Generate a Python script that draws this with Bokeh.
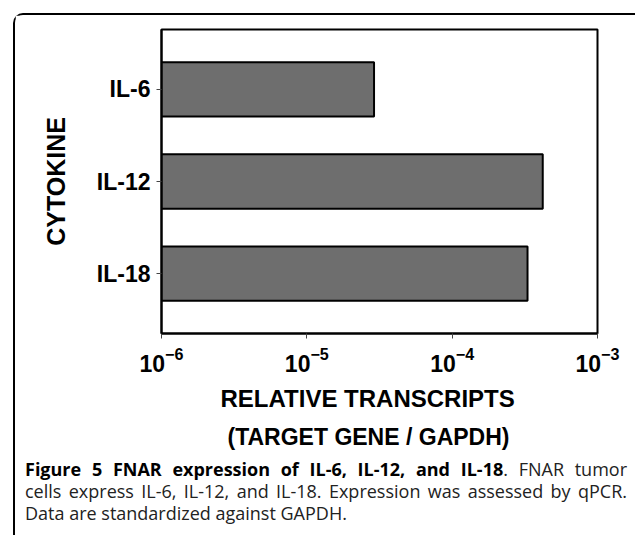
from bokeh.plotting import figure
from bokeh.models import Range1d, FactorRange, FixedTicker, ColumnDataSource, Div, Title
from bokeh.layouts import column
from bokeh.embed import file_html
from bokeh.resources import INLINE

# ---- data ----
cytokines = ["IL-6", "IL-12", "IL-18"]
relative_transcripts = [2.9e-5, 4.2e-4, 3.3e-4]
x_ticks = [1e-6, 1e-5, 1e-4, 1e-3]
x_start, x_end = 1e-6, 1e-3

x_title_lines = ["RELATIVE TRANSCRIPTS", "(TARGET GENE / GAPDH)"]
y_title = "CYTOKINE"

caption_bold = "Figure 5 FNAR expression of IL-6, IL-12, and IL-18"
caption_line1_rest = ". FNAR tumor"
caption_line2 = "cells express IL-6, IL-12, and IL-18. Expression was assessed by qPCR."
caption_line3 = "Data are standardized against GAPDH."

y_factors = list(reversed(cytokines))
src = ColumnDataSource(dict(cytokine=cytokines, value=relative_transcripts,
                            base=[x_start] * len(cytokines)))

p = figure(width=612, height=438, x_axis_type="log",
           x_range=Range1d(x_start, x_end),
           y_range=FactorRange(factors=y_factors, range_padding=0.1),
           output_backend="svg", toolbar_location=None,
           min_border_left=146, min_border_right=30,
           min_border_top=14, min_border_bottom=120)

p.hbar(y="cytokine", left="base", right="value", height=0.59, source=src,
       fill_color="#6e6e6e", line_color="black", line_width=2)

p.grid.visible = False
p.outline_line_color = "black"
p.outline_line_width = 2
p.outline_line_alpha = 1
p.background_fill_color = "white"
p.border_fill_color = "white"

AX_FONT = "Liberation Sans"
for ax in (p.xaxis, p.yaxis):
    ax.axis_line_color = "black"
    ax.axis_line_width = 2
    ax.major_tick_in = 0
    ax.major_tick_out = 5
    ax.major_tick_line_color = "#444444"
    ax.major_tick_line_width = 1
    ax.minor_tick_line_color = None
    ax.major_label_text_font = AX_FONT
    ax.major_label_text_font_style = "bold"
    ax.major_label_text_font_size = "23px"
    ax.major_label_text_color = "black"
    ax.axis_label_text_font = AX_FONT
    ax.axis_label_text_font_style = "bold"
    ax.axis_label_text_color = "black"

p.xaxis.ticker = FixedTicker(ticks=x_ticks)
p.xaxis.major_label_standoff = 8

# two-line x-axis title, slightly left of the frame centre as in the original
for txt, standoff, size, offset in zip(x_title_lines, [17, 3], ["24px", "23px"], [59, 66]):
    p.add_layout(Title(text=txt, align="left", offset=offset, standoff=standoff,
                       text_font=AX_FONT, text_font_style="bold",
                       text_font_size=size, text_color="black"), "below")

p.yaxis.major_label_standoff = 6
p.yaxis.axis_label = y_title
p.yaxis.axis_label_text_font_size = "25px"
p.yaxis.axis_label_standoff = 24

line_css = "white-space:nowrap; text-align:justify; text-align-last:justify;"
caption_html = (
    '<div style="width:602px; margin-left:5px; font-family:\'Open Sans\'; '
    'font-size:18px; line-height:22px; color:#222222;">'
    f'<div style="{line_css}"><b style="color:black; font-weight:700;">{caption_bold}</b>{caption_line1_rest}</div>'
    f'<div style="{line_css}">{caption_line2}</div>'
    f'<div style="white-space:nowrap; text-align:left;">{caption_line3}</div>'
    '</div>'
)
caption = Div(text=caption_html, width=620, height=72)

layout = column(p, caption, styles={
    "margin-left": "13px", "margin-top": "13px",
    "border-left": "2px solid black", "border-top": "2px solid black",
    "border-top-left-radius": "10px", "background-color": "white",
})

open("out.html", "w").write(file_html(layout, INLINE))
